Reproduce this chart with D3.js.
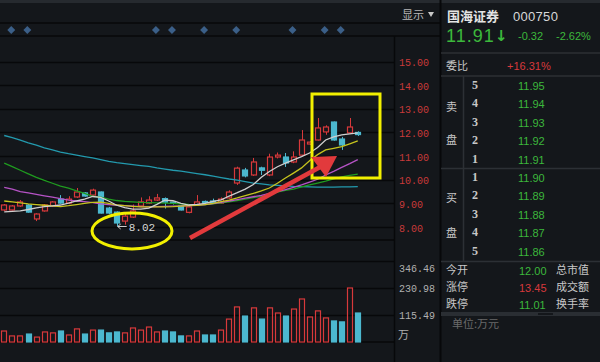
<!DOCTYPE html>
<html><head><meta charset="utf-8">
<script src="https://cdn.jsdelivr.net/npm/d3@7"></script>
<style>
html,body{margin:0;padding:0;background:#14171b;overflow:hidden;}
svg{display:block;}
</style></head>
<body>
<svg id="c" width="600" height="362"></svg>
<script>
// ---------- data ----------
const opens  = [8.72,8.72,8.89,8.93,8.34,8.68,8.89,9.18,9.01,9.27,9.44,9.35,9.48,8.80,8.63,8.25,8.42,8.89,9.01,9.14,9.20,9.05,8.89,8.62,8.93,9.08,9.10,9.01,9.23,9.86,10.41,10.20,10.50,10.20,10.96,10.96,10.75,11.04,11.51,11.68,12.02,12.44,11.72,11.98,12.00];
const highs  = [8.97,8.93,9.14,8.97,8.58,8.97,9.10,9.35,9.30,9.65,9.47,9.62,9.50,8.85,8.66,8.60,8.95,9.25,9.30,9.40,9.25,9.08,8.93,8.88,9.35,9.12,9.20,9.25,9.55,10.55,10.50,10.92,10.55,11.10,11.15,11.13,11.20,12.10,11.63,12.61,12.30,12.46,11.81,12.61,12.05];
const lows   = [8.68,8.70,8.85,8.60,8.25,8.65,8.85,8.98,8.97,9.23,9.28,9.32,8.57,8.55,8.02,8.10,8.38,8.85,8.97,9.10,8.78,8.95,8.70,8.58,8.90,9.00,8.98,8.98,9.20,9.78,10.10,10.16,10.20,10.15,10.90,10.54,10.70,11.00,11.47,11.66,11.90,11.65,11.26,11.95,11.85];
const closes = [8.93,8.89,9.06,8.63,8.55,8.93,9.06,9.01,9.18,9.48,9.31,9.56,8.59,8.59,8.17,8.46,8.68,9.06,9.14,9.23,9.05,9.00,8.72,8.85,9.06,9.04,9.01,9.18,9.48,10.49,10.16,10.75,10.40,10.96,11.04,10.71,10.96,11.68,11.59,12.19,12.23,11.68,11.47,12.23,11.91];
const volumes = [47,26,26,34,21,43,39,47,30,56,34,51,51,39,43,39,60,51,64,43,47,43,26,26,47,30,30,51,98,150,111,146,98,146,124,111,141,184,107,133,103,90,86,231,124];
const ma5  = [8.64,8.66,8.68,8.74,8.81,8.86,8.89,8.93,9.01,9.10,9.18,9.29,9.25,9.10,8.92,8.82,8.76,8.76,8.80,8.96,9.14,9.11,9.00,8.93,8.96,9.00,9.08,9.15,9.31,9.45,9.60,9.80,10.10,10.35,10.55,10.70,10.84,10.98,11.13,11.36,11.68,11.81,11.90,11.94,11.98];
const ma10 = [9.10,9.06,9.02,8.98,8.95,8.92,8.89,8.86,8.90,8.95,9.00,9.04,9.05,9.00,8.93,8.90,8.87,8.85,8.85,8.85,8.85,8.86,8.88,8.90,8.92,8.95,9.00,9.07,9.14,9.23,9.33,9.42,9.53,9.65,9.85,10.07,10.28,10.50,10.80,11.06,11.26,11.33,11.40,11.52,11.64];
const ma20 = [9.68,9.60,9.50,9.44,9.38,9.32,9.26,9.20,9.14,9.10,9.07,9.03,8.98,8.95,8.92,8.90,8.88,8.86,8.85,8.86,8.87,8.88,8.89,8.91,8.93,8.95,8.99,9.04,9.10,9.16,9.22,9.28,9.34,9.42,9.50,9.58,9.68,9.78,9.90,10.02,10.20,10.35,10.52,10.68,10.85];
const ma30 = [10.70,10.55,10.40,10.25,10.10,9.97,9.85,9.73,9.64,9.53,9.42,9.30,9.26,9.18,9.12,9.08,9.06,9.04,9.03,9.02,9.01,9.00,8.98,8.96,8.95,8.95,8.98,9.02,9.06,9.12,9.18,9.24,9.30,9.38,9.48,9.55,9.60,9.70,9.78,9.86,9.94,10.04,10.12,10.18,10.24];
const ma60 = [11.87,11.78,11.67,11.56,11.46,11.35,11.26,11.17,11.10,11.04,10.98,10.92,10.85,10.78,10.72,10.68,10.64,10.60,10.56,10.50,10.45,10.40,10.36,10.31,10.26,10.21,10.15,10.09,10.03,9.98,9.92,9.86,9.82,9.78,9.76,9.74,9.72,9.71,9.70,9.69,9.69,9.69,9.70,9.70,9.71];
const priceTicks = [8,9,10,11,12,13,14,15];
const volumeTicks = [115.49,230.98,346.46];
const lowMarkIndex = 14;

const stockName = "国海证券", stockCode = "000750";
const lastPrice = "11.91", change = "-0.32", changePct = "-2.62%";
const weibi = "+16.31%";
const sellLevels = ["5","4","3","2","1"], sellPrices = ["11.95","11.94","11.93","11.92","11.91"];
const buyLevels = ["1","2","3","4","5"], buyPrices = ["11.90","11.89","11.88","11.87","11.86"];
const statLabels = ["今开","涨停","跌停"], statValues = ["12.00","13.45","11.01"], statRight = ["总市值","成交额","换手率"];
const diamondIdx = [1,3,19,21,25,29,36,40,42];

// ---------- setup ----------
const svg = d3.select("#c");
const RED = "#d8393b", CYAN = "#4cb8cf", BG = "#14171b", LINE = "#07080a";
const n = closes.length;
const x = d3.scaleBand().domain(d3.range(n)).range([-1, 363]).padding(0.3);
const cx = i => x(i) + x.bandwidth()/2;
const y = d3.scaleLinear().domain([8, 15]).range([227, 61.5]);
const yv = d3.scaleLinear().domain([0, 346.46]).range([342, 261]);

svg.append("rect").attr("width",600).attr("height",362).attr("fill",BG);
svg.append("rect").attr("width",600).attr("height",3).attr("fill","#262a2f");

// grid / panel lines
const hl = (yy, x2, col) => svg.append("line").attr("x1",0).attr("x2",x2).attr("y1",yy).attr("y2",yy).attr("stroke",col||LINE).attr("stroke-width",1.5);
hl(23, 440); hl(36, 440); hl(240, 394); hl(342, 394);
priceTicks.forEach(t => hl(Math.round(y(t))+0.5, 394));
volumeTicks.forEach(t => hl(Math.round(yv(t))+0.5, 394));
svg.append("line").attr("x1",394.5).attr("x2",394.5).attr("y1",36).attr("y2",362).attr("stroke",LINE).attr("stroke-width",1.5);
svg.append("line").attr("x1",440.5).attr("x2",440.5).attr("y1",0).attr("y2",362).attr("stroke",LINE).attr("stroke-width",2);

// diamonds
svg.append("g").selectAll("path").data(diamondIdx).join("path")
  .attr("d", d3.symbol(d3.symbolDiamond2, 40))
  .attr("transform", i => `translate(${cx(i)-1},30)`)
  .attr("fill","#3b5f88");

// top toolbar text
svg.append("text").attr("x",402).attr("y",19).text("显示").attr("fill","#b8b8b8")
  .attr("font-family","Noto Sans CJK SC").attr("font-size",11);
svg.append("path").attr("d","M428,12 L434,12 L431,17 Z").attr("fill","#c8c8c8");

// axes
const axP = svg.append("g").attr("transform","translate(396,0)")
  .call(d3.axisRight(y).tickValues(priceTicks).tickFormat(d3.format(".2f")).tickSize(0));
axP.select(".domain").remove();
axP.selectAll("text").attr("fill","#c83a3a").attr("font-family","Liberation Mono, DejaVu Sans Mono").attr("font-size",10).attr("dx",0).attr("dy","0.4em");

const axV = svg.append("g").attr("transform","translate(396,0)")
  .call(d3.axisRight(yv).tickValues(volumeTicks).tickFormat(d3.format(".2f")).tickSize(0));
axV.select(".domain").remove();
axV.selectAll("text").attr("fill","#b0b0b0").attr("font-family","Liberation Mono, DejaVu Sans Mono").attr("font-size",10).attr("dy", (d,i)=> i===2 ? "1.0em" : "0.35em");
svg.append("text").attr("x",398).attr("y",339).text("万").attr("fill","#b0b0b0")
  .attr("font-family","Noto Sans CJK SC").attr("font-size",11);

// volume bars
const bw = x.bandwidth();
svg.append("g").selectAll("rect").data(volumes).join("rect")
  .attr("x",(d,i)=>Math.round(x(i))+0.5).attr("width",Math.round(bw)-1)
  .attr("y",d=>yv(d)).attr("height",d=>yv(0)-yv(d))
  .attr("fill",(d,i)=>closes[i]>=opens[i]? "none": CYAN)
  .attr("stroke",(d,i)=>closes[i]>=opens[i]? RED: CYAN).attr("stroke-width",1.2);

// candles
const cg = svg.append("g");
d3.range(n).forEach(i => {
  const up = closes[i] >= opens[i];
  const col = up ? RED : CYAN;
  const top = y(Math.max(opens[i],closes[i])), bot = y(Math.min(opens[i],closes[i]));
  const xc = Math.round(cx(i))+0.5;
  cg.append("line").attr("x1",xc).attr("x2",xc).attr("y1",y(highs[i])).attr("y2",top).attr("stroke",col);
  cg.append("line").attr("x1",xc).attr("x2",xc).attr("y1",bot).attr("y2",y(lows[i])).attr("stroke",col);
  cg.append("rect").attr("x",Math.round(x(i))+0.5).attr("width",Math.round(bw)-1)
    .attr("y",top).attr("height",Math.max(1,bot-top))
    .attr("fill", up ? BG : CYAN).attr("stroke",col).attr("stroke-width",1.2);
});

// moving averages
const mas = [[ma60,"#239aae"],[ma30,"#1f9b1f"],[ma20,"#b653c6"],[ma10,"#c6c41e"],[ma5,"#cfcfcf"]];
mas.forEach(([arr,col]) => {
  svg.append("path").datum(arr).attr("fill","none").attr("stroke",col).attr("stroke-width",1.3)
    .attr("d", d3.line().x((d,i)=>cx(i)).y(d=>y(d)));
});

// low mark
const lx = cx(lowMarkIndex)+1, ly = y(lows[lowMarkIndex]);
svg.append("path").attr("d",`M${lx+9},${ly} L${lx},${ly} M${lx+3},${ly-2.5} L${lx},${ly} L${lx+3},${ly+2.5}`)
  .attr("stroke","#d0d0d0").attr("fill","none");
svg.append("text").attr("x",lx+11).attr("y",ly+4).text(d3.format(".2f")(lows[lowMarkIndex]))
  .attr("fill","#d8d8d8").attr("font-family","Liberation Mono, DejaVu Sans Mono").attr("font-size",11);

// annotations
svg.append("ellipse").attr("cx",132).attr("cy",231).attr("rx",40).attr("ry",18)
  .attr("fill","none").attr("stroke","#f2f000").attr("stroke-width",3);
svg.append("rect").attr("x",312).attr("y",94).attr("width",68).attr("height",84)
  .attr("fill","none").attr("stroke","#f2f000").attr("stroke-width",3);
svg.append("line").attr("x1",190).attr("y1",238).attr("x2",322).attr("y2",166)
  .attr("stroke","#e23a3c").attr("stroke-width",4.5);
svg.append("path").attr("d","M337,156 L311,157 L326,177 Z").attr("fill","#e23a3c");

// ---------- right info panel ----------
const P = svg.append("g");
const CJK = "Noto Sans CJK SC", NUM = "Liberation Sans, Arial";
const GREEN = "#3cb83c", GRAY = "#c8c8c8";
P.append("text").attr("x",447).attr("y",21).text(stockName).attr("fill","#e4e4e4").attr("font-family",CJK).attr("font-size",13).attr("font-weight","bold");
P.append("text").attr("x",513).attr("y",21).text(stockCode).attr("fill","#d8d8d8").attr("font-family",NUM).attr("font-size",13).attr("letter-spacing",0.3);
P.append("text").attr("x",446).attr("y",42).text(lastPrice).attr("fill",GREEN).attr("font-family",NUM).attr("font-size",18).attr("letter-spacing",1);
P.append("text").attr("x",495).attr("y",41).text("↓").attr("fill",GREEN).attr("font-family","DejaVu Sans").attr("font-size",15).attr("font-weight","bold");
P.append("text").attr("x",518).attr("y",40).text(change).attr("fill",GREEN).attr("font-family",NUM).attr("font-size",11);
P.append("text").attr("x",556).attr("y",40).text(changePct).attr("fill",GREEN).attr("font-family",NUM).attr("font-size",11);
const sep = yy => P.append("line").attr("x1",441).attr("x2",600).attr("y1",yy).attr("y2",yy).attr("stroke","#2c3035").attr("stroke-width",1.5);
sep(53); sep(76); sep(168.5); sep(261.5);
P.append("line").attr("x1",463.5).attr("x2",463.5).attr("y1",76).attr("y2",261).attr("stroke","#2c3035").attr("stroke-width",1.5);
P.append("text").attr("x",446).attr("y",70).text("委比").attr("fill",GRAY).attr("font-family",CJK).attr("font-size",11);
P.append("text").attr("x",507).attr("y",70).text(weibi).attr("fill","#d8393b").attr("font-family",NUM).attr("font-size",11);

sellLevels.forEach((l,i) => {
  const yy = 89 + i*18.4;
  P.append("text").attr("x",472).attr("y",yy).text(l).attr("fill",GRAY).attr("font-family","Liberation Serif").attr("font-size",12).attr("font-weight","bold");
  P.append("text").attr("x",518).attr("y",yy+1).text(sellPrices[i]).attr("fill",GREEN).attr("font-family",NUM).attr("font-size",11);
});
buyLevels.forEach((l,i) => {
  const yy = 181 + i*18.4;
  P.append("text").attr("x",472).attr("y",yy).text(l).attr("fill",GRAY).attr("font-family","Liberation Serif").attr("font-size",12).attr("font-weight","bold");
  P.append("text").attr("x",518).attr("y",yy+1).text(buyPrices[i]).attr("fill",GREEN).attr("font-family",NUM).attr("font-size",11);
});
[["卖",111],["盘",144],["买",202],["盘",237]].forEach(([t,yy]) =>
  P.append("text").attr("x",446).attr("y",yy).text(t).attr("fill",GRAY).attr("font-family",CJK).attr("font-size",11));

statLabels.forEach((l,i) => {
  const yy = 274 + i*17;
  P.append("text").attr("x",446).attr("y",yy).text(l).attr("fill",GRAY).attr("font-family",CJK).attr("font-size",11);
  P.append("text").attr("x",519).attr("y",yy+1).text(statValues[i]).attr("fill", i===1 ? "#d8393b" : GREEN).attr("font-family",NUM).attr("font-size",11);
  P.append("text").attr("x",556).attr("y",yy).text(statRight[i]).attr("fill",GRAY).attr("font-family",CJK).attr("font-size",11);
});
P.append("rect").attr("x",441).attr("y",312).attr("width",159).attr("height",4).attr("fill","#2a2e33");
P.append("rect").attr("x",538).attr("y",313).attr("width",15).attr("height",2).attr("fill","#14171b");
P.append("text").attr("x",452).attr("y",328).text("单位:万元").attr("fill","#6a6a6a").attr("font-family",CJK).attr("font-size",11);
</script>
</body></html>
